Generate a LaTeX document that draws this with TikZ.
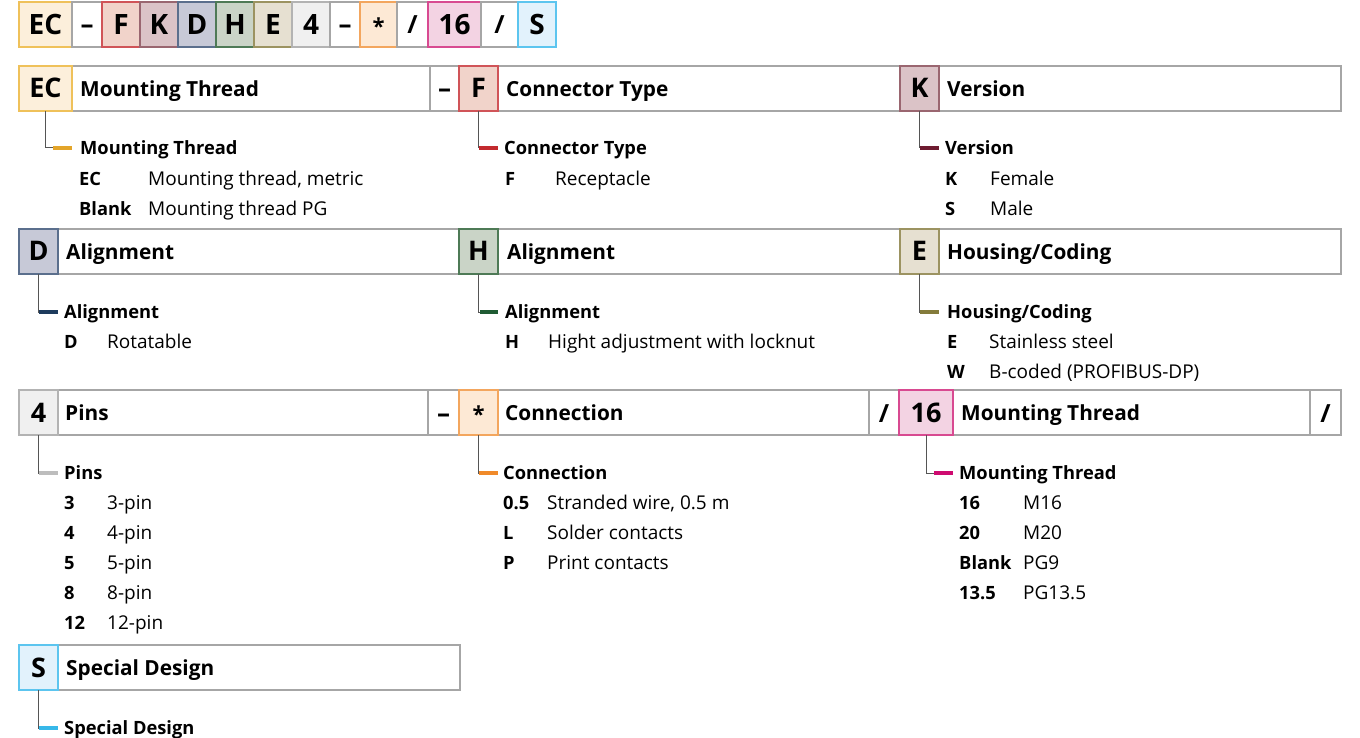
\documentclass[tikz,border=0pt]{standalone}
\usepackage{fontspec}
\setmainfont{Open Sans}
\definecolor{cellgray}{HTML}{A6A6A6}
\definecolor{connc}{HTML}{555555}
\definecolor{ecF}{HTML}{FCEFDB}\definecolor{ecB}{HTML}{EFC15A}\definecolor{ecT}{HTML}{E3A52A}
\definecolor{fF}{HTML}{F1D3CA}\definecolor{fB}{HTML}{D05458}\definecolor{fT}{HTML}{C32A2E}
\definecolor{kF}{HTML}{DBC3C7}\definecolor{kB}{HTML}{9A6670}\definecolor{kT}{HTML}{6E1B30}
\definecolor{dF}{HTML}{C7C9D7}\definecolor{dB}{HTML}{5B6F8D}\definecolor{dT}{HTML}{1E3B5D}
\definecolor{hF}{HTML}{CAD4C7}\definecolor{hB}{HTML}{4E7A56}\definecolor{hT}{HTML}{1F5B33}
\definecolor{eF}{HTML}{E6E0D1}\definecolor{eB}{HTML}{9C9361}\definecolor{eT}{HTML}{847B3B}
\definecolor{pF}{HTML}{F0F0F0}\definecolor{pB}{HTML}{B3B3B3}\definecolor{pT}{HTML}{BDBDBD}
\definecolor{sF}{HTML}{FDE9D5}\definecolor{sB}{HTML}{F3A65E}\definecolor{sT}{HTML}{F08A2A}
\definecolor{mF}{HTML}{F3D3E3}\definecolor{mB}{HTML}{D84A91}\definecolor{mT}{HTML}{CE0B70}
\definecolor{xF}{HTML}{E2F2FC}\definecolor{xB}{HTML}{5CC5EF}\definecolor{xT}{HTML}{37B8E9}
% box: name, x1, y1, x2, y2, style, text
\newcommand\mybox[7]{\node[#6, minimum width={#4-#2}, minimum height={#5-#3}] (#1) at ({(#2+#4)/2},{(#3+#5)/2}) {#7};}
\newcommand\myast{{\fontsize{22}{22}\selectfont *}}
\begin{document}
\begin{tikzpicture}[x=1pt,y=-1pt,
  cell/.style={draw=cellgray, line width=1.2pt, fill=white, inner sep=0pt, outer sep=0pt},
  codebox/.style 2 args={draw=#2, line width=1.2pt, fill=#1, inner sep=0pt, outer sep=0pt},
  topcode/.style={font=\bfseries\fontsize{28}{28}\selectfont, text height=20pt, text depth=0pt},
  hdcode/.style={font=\bfseries\fontsize{27}{27}\selectfont, text height=19pt, text depth=0pt},
  dashc/.style={font=\bfseries\fontsize{26}{26}\selectfont, text height=19pt, text depth=0pt},
  slashc/.style={font=\bfseries\fontsize{25}{25}\selectfont, text height=19pt, text depth=0pt},
  title/.style={anchor=west, inner sep=0pt, text height=14.9pt, text depth=0pt, font=\bfseries\fontsize{20.8}{20.8}\selectfont},
  sub/.style={anchor=west, inner sep=0pt, text height=13.1pt, text depth=0pt, font=\bfseries\fontsize{18.3}{18.3}\selectfont},
  key/.style={anchor=west, inner sep=0pt, text height=13.1pt, text depth=0pt, font=\bfseries\fontsize{18.3}{18.3}\selectfont},
  desc/.style={anchor=west, inner sep=0pt, text height=13.6pt, text depth=0pt, font=\fontsize{19}{19}\selectfont},
  conn/.style={draw=connc, line width=1pt},
  tick/.style={draw=#1, line width=3.5pt}
]
\useasboundingbox (0,0) rectangle (1360,738);
% ---------- top code bar ----------
\mybox{t1}{19}{2}{72}{47}{codebox={ecF}{ecB},topcode}{EC}
\mybox{t2}{72}{2}{102}{47}{cell,dashc}{–}
\mybox{t3}{102}{2}{140}{47}{codebox={fF}{fB},topcode}{F}
\mybox{t4}{140}{2}{178}{47}{codebox={kF}{kB},topcode}{K}
\mybox{t5}{178}{2}{216}{47}{codebox={dF}{dB},topcode}{D}
\mybox{t6}{216}{2}{254}{47}{codebox={hF}{hB},topcode}{H}
\mybox{t7}{254}{2}{292}{47}{codebox={eF}{eB},topcode}{E}
\mybox{t8}{292}{2}{330}{47}{codebox={pF}{pB},topcode}{4}
\mybox{t9}{330}{2}{360}{47}{cell,dashc}{–}
\mybox{t10}{360}{2}{397}{47}{codebox={sF}{sB},topcode}{\myast}
\mybox{t11}{397}{2}{428}{47}{cell,slashc}{/}
\mybox{t12}{428}{2}{481}{47}{codebox={mF}{mB},topcode}{16}
\mybox{t13}{481}{2}{518}{47}{cell,slashc}{/}
\mybox{t14}{518}{2}{556}{47}{codebox={xF}{xB},topcode}{S}
% ---------- row 1 ----------
\mybox{ectitle}{72}{66}{430}{111}{cell}{}
\mybox{dash1}{430}{66}{459}{111}{cell,dashc}{–}
\mybox{ftitle}{498}{66}{900}{111}{cell}{}
\mybox{ktitle}{939}{66}{1341}{111}{cell}{}
\mybox{ecbox}{19}{66}{72}{111}{codebox={ecF}{ecB},hdcode}{EC}
\mybox{fbox}{459}{66}{498}{111}{codebox={fF}{fB},hdcode}{F}
\mybox{kbox}{900}{66}{939}{111}{codebox={kF}{kB},hdcode}{K}
\node[title] (ectxt) at (80,89) {Mounting Thread};
\node[title] (ftxt) at (506,89) {Connector Type};
\node[title] (ktxt) at (947,89) {Version};
% ---------- row 2 ----------
\mybox{dtitle}{58}{229}{459}{274}{cell}{}
\mybox{htitle}{498}{229}{900}{274}{cell}{}
\mybox{etitle}{939}{229}{1341}{274}{cell}{}
\mybox{dbox}{19}{229}{58}{274}{codebox={dF}{dB},hdcode}{D}
\mybox{hbox}{459}{229}{498}{274}{codebox={hF}{hB},hdcode}{H}
\mybox{ebox}{900}{229}{939}{274}{codebox={eF}{eB},hdcode}{E}
\node[title] (dtxt) at (66,252) {Alignment};
\node[title] (htxt) at (507,252) {Alignment};
\node[title] (etxt) at (947,252) {Housing/Coding};
% ---------- row 3 ----------
\mybox{ptitle}{58}{390}{428}{435}{cell}{}
\mybox{dash2}{428}{390}{459}{435}{cell,dashc}{–}
\mybox{ctitle}{498}{390}{869}{435}{cell}{}
\mybox{slash1}{869}{390}{899}{435}{cell,slashc}{/}
\mybox{mtitle}{953}{390}{1310}{435}{cell}{}
\mybox{slash2}{1310}{390}{1341}{435}{cell,slashc}{/}
\mybox{pbox}{19}{390}{58}{435}{codebox={pF}{pB},hdcode}{4}
\mybox{sbox}{459}{390}{498}{435}{codebox={sF}{sB},hdcode}{\myast}
\mybox{mbox}{899}{390}{953}{435}{codebox={mF}{mB},hdcode}{16}
\node[title] (ptxt) at (65,413) {Pins};
\node[title] (ctxt) at (505,413) {Connection};
\node[title] (mtxt) at (961,413) {Mounting Thread};
% ---------- row 4 ----------
\mybox{xtitle}{58}{645}{460}{690}{cell}{}
\mybox{xbox}{19}{645}{58}{690}{codebox={xF}{xB},hdcode}{S}
\node[title] (xtxt) at (66,668) {Special Design};
% ---------- connectors ----------
\coordinate (ecA) at (53,148);  \coordinate (ecB) at (72,148);
\coordinate (fA) at (479,148);  \coordinate (fB) at (498,148);
\coordinate (kA) at (920,148);  \coordinate (kB) at (939,148);
\coordinate (dA) at (39,312);   \coordinate (dB) at (58,312);
\coordinate (hA) at (480,312);  \coordinate (hB) at (498,312);
\coordinate (eA) at (920,312);  \coordinate (eB) at (939,312);
\coordinate (pA) at (39,473);   \coordinate (pB) at (58,473);
\coordinate (sA) at (479,473);  \coordinate (sB) at (498,473);
\coordinate (mA) at (934,473);  \coordinate (mB) at (953,473);
\coordinate (xA) at (39,728);   \coordinate (xB) at (58,728);
\draw[conn] (ecbox.south) |- (ecA); \draw[tick=ecT] (ecA) -- (ecB);
\draw[conn] (fbox.south) |- (fA);   \draw[tick=fT] (fA) -- (fB);
\draw[conn] (kbox.south) |- (kA);   \draw[tick=kT] (kA) -- (kB);
\draw[conn] (dbox.south) |- (dA);   \draw[tick=dT] (dA) -- (dB);
\draw[conn] (hbox.south) |- (hA);   \draw[tick=hT] (hA) -- (hB);
\draw[conn] (ebox.south) |- (eA);   \draw[tick=eT] (eA) -- (eB);
\draw[conn] (pbox.south) |- (pA);   \draw[tick=pT] (pA) -- (pB);
\draw[conn] (sbox.south) |- (sA);   \draw[tick=sT] (sA) -- (sB);
\draw[conn] (mbox.south) |- (mA);   \draw[tick=mT] (mA) -- (mB);
\draw[conn] (xbox.south) |- (xA);   \draw[tick=xT] (xA) -- (xB);
% ---------- legends ----------
\node[sub] (ecs) at (80,148) {Mounting Thread};
\node[key] (ec1k) at (79,179) {EC};   \node[desc] (ec1d) at (148,179) {Mounting thread, metric};
\node[key] (ec2k) at (79,209) {Blank}; \node[desc] (ec2d) at (148,209) {Mounting thread PG};
\node[sub] (fs) at (504,148) {Connector Type};
\node[key] (f1k) at (505,179) {F};    \node[desc] (f1d) at (555,179) {Receptacle};
\node[sub] (ks) at (945,148) {Version};
\node[key] (k1k) at (945,179) {K};    \node[desc] (k1d) at (990,179) {Female};
\node[key] (k2k) at (945,209) {S};    \node[desc] (k2d) at (990,209) {Male};
\node[sub] (ds) at (64,312) {Alignment};
\node[key] (d1k) at (64,342) {D};     \node[desc] (d1d) at (107,342) {Rotatable};
\node[sub] (hs) at (505,312) {Alignment};
\node[key] (h1k) at (505,342) {H};    \node[desc] (h1d) at (548,342) {Hight adjustment with locknut};
\node[sub] (es) at (947,312) {Housing/Coding};
\node[key] (e1k) at (947,342) {E};    \node[desc] (e1d) at (989,342) {Stainless steel};
\node[key] (e2k) at (947,372) {W};    \node[desc] (e2d) at (989,372) {B-coded (PROFIBUS-DP)};
\node[sub] (ps) at (64,473) {Pins};
\node[key] (p1k) at (64,503) {3};     \node[desc] (p1d) at (107,503) {3-pin};
\node[key] (p2k) at (64,533) {4};     \node[desc] (p2d) at (107,533) {4-pin};
\node[key] (p3k) at (64,563) {5};     \node[desc] (p3d) at (107,563) {5-pin};
\node[key] (p4k) at (64,593) {8};     \node[desc] (p4d) at (107,593) {8-pin};
\node[key] (p5k) at (64,623) {12};    \node[desc] (p5d) at (107,623) {12-pin};
\node[sub] (ss) at (503,473) {Connection};
\node[key] (s1k) at (503,503) {0.5};  \node[desc] (s1d) at (547,503) {Stranded wire, 0.5 m};
\node[key] (s2k) at (503,533) {L};    \node[desc] (s2d) at (547,533) {Solder contacts};
\node[key] (s3k) at (503,563) {P};    \node[desc] (s3d) at (547,563) {Print contacts};
\node[sub] (ms) at (959,473) {Mounting Thread};
\node[key] (m1k) at (959,503) {16};   \node[desc] (m1d) at (1023,503) {M16};
\node[key] (m2k) at (959,533) {20};   \node[desc] (m2d) at (1023,533) {M20};
\node[key] (m3k) at (959,563) {Blank};\node[desc] (m3d) at (1023,563) {PG9};
\node[key] (m4k) at (959,593) {13.5}; \node[desc] (m4d) at (1023,593) {PG13.5};
\node[sub] (xs) at (64,728) {Special Design};
\end{tikzpicture}
\end{document}
